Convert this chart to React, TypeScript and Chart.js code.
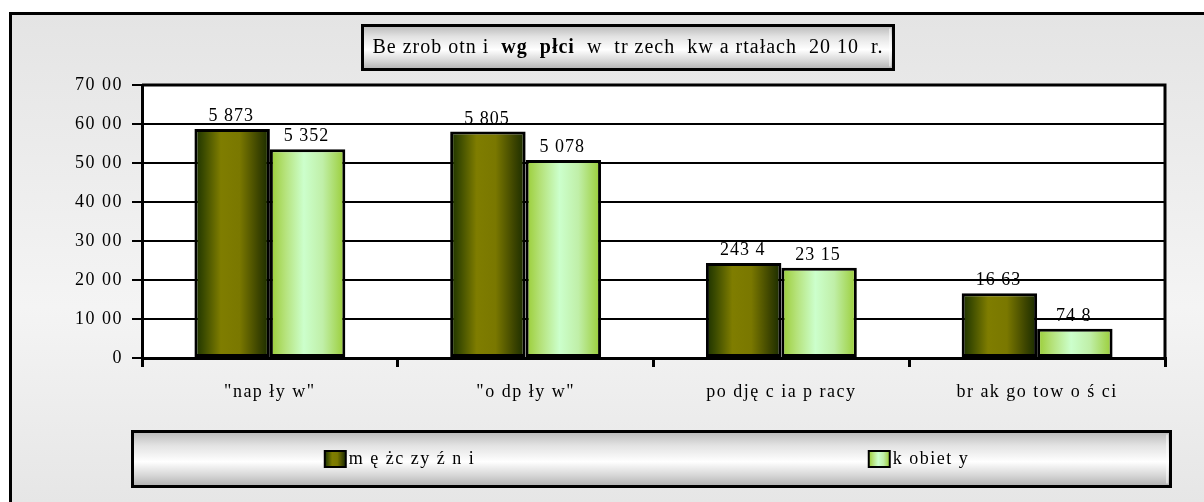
import React, { useEffect, useRef } from 'react';
import { Chart, registerables } from 'chart.js';

Chart.register(...registerables);

// ---- data ----
const categories = ['"nap ły w"', '"o dp ły w"', 'po dję c ia p racy', 'br ak go tow o ś ci'];
const seriesNames = ['m ę żc zy ź n i', 'k obiet y'];
const menValues = [5873, 5805, 2434, 1663];
const womenValues = [5352, 5078, 2315, 748];
const menLabels = ['5 873', '5 805', '243 4', '16 63'];
const womenLabels = ['5 352', '5 078', '23 15', '74 8'];
const yTickLabels = ['0', '10 00', '20 00', '30 00', '40 00', '50 00', '60 00', '70 00'];
const titleParts: [string, boolean][] = [
  ['Be zrob otn i  ', false],
  ['wg  płci', true],
  ['  w  tr zech  kw a rtałach  20 10  r.', false],
];

const FONT = "'Liberation Serif', 'Times New Roman', serif";
const FS = 18;
const SPACING = '1.5px';

function barGradient(ctx: CanvasRenderingContext2D, x0: number, x1: number, kind: number) {
  const g = ctx.createLinearGradient(x0, 0, x1, 0);
  if (kind === 0) {
    g.addColorStop(0, '#1a3000');
    g.addColorStop(0.12, '#3a4a00');
    g.addColorStop(0.35, '#7f7d00');
    g.addColorStop(0.6, '#7a7800');
    g.addColorStop(0.85, '#3c4400');
    g.addColorStop(1, '#172b00');
  } else {
    g.addColorStop(0, '#99cc33');
    g.addColorStop(0.2, '#b5e27a');
    g.addColorStop(0.45, '#ccffcc');
    g.addColorStop(0.7, '#c0efa8');
    g.addColorStop(1, '#99cc33');
  }
  return g;
}

function boxGradient(ctx: CanvasRenderingContext2D, y0: number, y1: number) {
  const g = ctx.createLinearGradient(0, y0, 0, y1);
  g.addColorStop(0, '#b8b8b8');
  g.addColorStop(0.25, '#e2e2e2');
  g.addColorStop(0.55, '#ffffff');
  g.addColorStop(0.8, '#d6d6d6');
  g.addColorStop(1, '#b0b0b0');
  return g;
}

function drawBevelBox(ctx: CanvasRenderingContext2D, x: number, y: number, w: number, h: number) {
  ctx.fillStyle = boxGradient(ctx, y, y + h);
  ctx.fillRect(x, y, w, h);
  ctx.strokeStyle = '#ffffff';
  ctx.lineWidth = 1;
  ctx.beginPath();
  ctx.moveTo(x + w - 3.5, y + 3);
  ctx.lineTo(x + w - 3.5, y + h - 3);
  ctx.stroke();
  ctx.strokeStyle = '#000000';
  ctx.lineWidth = 3;
  ctx.strokeRect(x, y, w, h);
}

const decorPlugin = {
  id: 'decor',
  beforeDraw(chart: any) {
    const ctx: any = chart.ctx;
    ctx.letterSpacing = SPACING;
    const W = chart.width;
    const H = chart.height;
    const area = chart.chartArea;
    ctx.save();
    ctx.fillStyle = '#ffffff';
    ctx.fillRect(0, 0, W, H);
    // outer frame
    const bg = ctx.createLinearGradient(0, 13, 0, H);
    bg.addColorStop(0, '#e4e4e4');
    bg.addColorStop(0.6, '#f4f4f4');
    bg.addColorStop(1, '#e6e6e6');
    ctx.fillStyle = bg;
    ctx.fillRect(10, 13, W, H);
    ctx.strokeStyle = '#000';
    ctx.lineWidth = 3;
    ctx.strokeRect(10.5, 13.5, W + 10, H + 10);
    // plot area
    ctx.fillStyle = '#ffffff';
    ctx.fillRect(area.left, area.top, area.right - area.left, area.bottom - area.top);

    // title box
    const TFS = 20;
    ctx.letterSpacing = '1px';
    let tw = 0;
    for (const [t, b] of titleParts) {
      ctx.font = `${b ? 'bold ' : ''}${TFS}px ${FONT}`;
      tw += ctx.measureText(t).width;
    }
    const cx = 628;
    const bw = tw + 20;
    drawBevelBox(ctx, cx - bw / 2, 25.5, bw, 44);
    let tx = cx - tw / 2;
    ctx.fillStyle = '#000';
    ctx.textBaseline = 'middle';
    ctx.textAlign = 'left';
    for (const [t, b] of titleParts) {
      ctx.font = `${b ? 'bold ' : ''}${TFS}px ${FONT}`;
      ctx.fillText(t, tx, 48);
      tx += ctx.measureText(t).width;
    }
    ctx.letterSpacing = SPACING;

    // legend box
    const lx = 132.5, ly = 431.5, lw = 1038, lh = 55;
    drawBevelBox(ctx, lx, ly, lw, lh);
    ctx.font = `${FS}px ${FONT}`;
    chart.data.datasets.forEach((ds: any, i: number) => {
      const half = lw / 2;
      const sw = 21, sh = 16, gap = 3;
      const textW = ctx.measureText(ds.label).width;
      const itemW = sw + gap + textW;
      const ix = lx + half * i + (half - itemW) / 2 + 8;
      const iy = ly + lh / 2;
      ctx.fillStyle = barGradient(ctx, ix, ix + sw, i);
      ctx.fillRect(ix, iy - sh / 2, sw, sh);
      ctx.strokeStyle = '#000';
      ctx.lineWidth = 2;
      ctx.strokeRect(ix, iy - sh / 2, sw, sh);
      ctx.fillStyle = '#000';
      ctx.textBaseline = 'middle';
      ctx.fillText(ds.label, ix + sw + gap, iy);
    });
    ctx.restore();
  },
  beforeDatasetsDraw(chart: any) {
    const ctx = chart.ctx;
    chart.data.datasets.forEach((_ds: any, di: number) => {
      const meta = chart.getDatasetMeta(di);
      meta.data.forEach((el: any) => {
        const x0 = el.x - el.width / 2;
        el.options.backgroundColor = barGradient(ctx, x0, x0 + el.width, di);
      });
    });
  },
  afterDatasetsDraw(chart: any) {
    const ctx: any = chart.ctx;
    const area = chart.chartArea;
    ctx.save();
    // plot frame top/right
    ctx.strokeStyle = '#000';
    ctx.lineWidth = 3;
    ctx.beginPath();
    ctx.moveTo(area.left, area.top);
    ctx.lineTo(area.right, area.top);
    ctx.lineTo(area.right, area.bottom);
    ctx.stroke();
    // data labels
    ctx.letterSpacing = '1px';
    ctx.font = `${FS}px ${FONT}`;
    ctx.fillStyle = '#000';
    ctx.textAlign = 'center';
    ctx.textBaseline = 'alphabetic';
    chart.data.datasets.forEach((ds: any, di: number) => {
      const meta = chart.getDatasetMeta(di);
      meta.data.forEach((el: any, i: number) => {
        ctx.fillText(ds.valueLabels[i], el.x - 1, el.y - 8);
      });
    });
    ctx.restore();
  },
};

export default function App() {
  const ref = useRef<HTMLCanvasElement | null>(null);
  useEffect(() => {
    if (!ref.current) return;
    const chart = new Chart(ref.current, {
      type: 'bar',
      data: {
        labels: categories,
        datasets: [
          {
            label: seriesNames[0],
            data: menValues,
            valueLabels: menLabels,
            backgroundColor: () => '#7f7d00',
            borderColor: '#000',
            borderWidth: 3,
            borderSkipped: false,
            categoryPercentage: 0.59,
            barPercentage: 1.0,
          } as any,
          {
            label: seriesNames[1],
            data: womenValues,
            valueLabels: womenLabels,
            backgroundColor: () => '#ccffcc',
            borderColor: '#000',
            borderWidth: 3,
            borderSkipped: false,
            categoryPercentage: 0.59,
            barPercentage: 1.0,
          } as any,
        ],
      },
      options: {
        responsive: false,
        devicePixelRatio: 1,
        animation: false,
        events: [],
        layout: { padding: { left: 0, right: 39, top: 85, bottom: 0 } },
        plugins: {
          legend: { display: false },
          title: { display: false },
          tooltip: { enabled: false },
        },
        scales: {
          x: {
            afterFit: (s: any) => { s.height = 144; },
            grid: {
              offset: true,
              drawOnChartArea: false,
              drawTicks: true,
              tickLength: 9,
              color: '#000',
              lineWidth: 3,
            },
            border: { display: true, color: '#000', width: 3 },
            ticks: {
              color: '#000',
              padding: 14,
              font: { family: FONT, size: FS },
              maxRotation: 0,
            },
          },
          y: {
            min: 0,
            max: 7000,
            afterFit: (s: any) => { s.width = 142; },
            grid: {
              color: '#000',
              lineWidth: 2,
              drawTicks: true,
              tickLength: 10,
            },
            border: { display: true, color: '#000', width: 3 },
            ticks: {
              stepSize: 1000,
              color: '#000',
              padding: 9,
              font: { family: FONT, size: FS },
              callback: (_v: any, i: number) => yTickLabels[i],
            },
          },
        },
      },
      plugins: [decorPlugin],
    });
    return () => chart.destroy();
  }, []);
  return (
    <div style={{ position: 'fixed', left: 0, top: 0, width: 1204, height: 502 }}>
      <canvas ref={ref} width={1204} height={502} style={{ display: 'block' }} />
    </div>
  );
}
